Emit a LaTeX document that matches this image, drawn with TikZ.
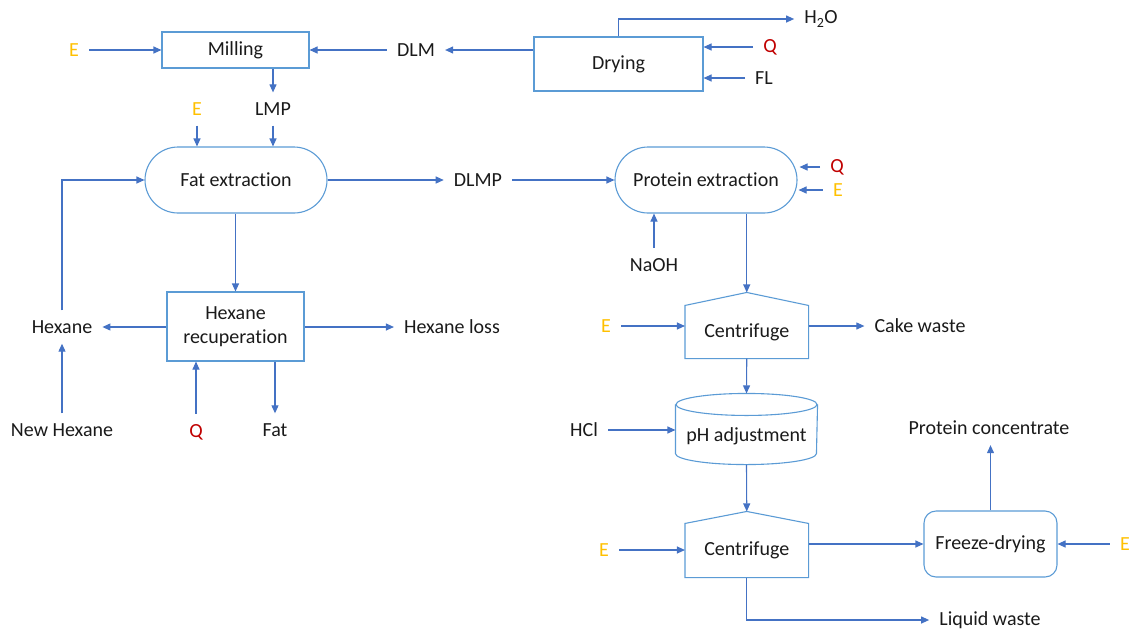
\documentclass[tikz,border=0pt]{standalone}
\usepackage{fontspec}
\setmainfont{Carlito}[Ligatures=NoCommon]
\usetikzlibrary{arrows.meta}

\definecolor{boxblue}{HTML}{5B9BD5}
\definecolor{flowblue}{HTML}{4472C4}
\definecolor{energy}{HTML}{FFC000}
\definecolor{heat}{HTML}{C00000}
\definecolor{ink}{HTML}{1A1A1A}

\tikzset{
  unit/.style={draw=boxblue, line width=1.1pt, text=ink, align=center, inner sep=2pt},
  stadium/.style={unit, rounded corners=33pt, minimum width=182pt, minimum height=66pt},
  stream/.style={text=ink, inner sep=10pt},
  flow/.style={draw=flowblue, line width=1.1pt, -{Triangle[length=8pt,width=7pt]}},
}

\begin{document}
\begin{tikzpicture}[x=1pt, y=-1pt, font=\fontsize{20}{24}\selectfont]
  \useasboundingbox (0,0) rectangle (1130,630);

  %% process units
  \node[unit, minimum width=147pt, minimum height=36pt] (mill) at (235.5,50) {Milling};
  \node[unit, minimum width=169pt, minimum height=54pt] (dry) at (618.5,64) {Drying};
  \node[stadium] (fatx) at (236,180) {Fat extraction};
  \node[stadium] (protx) at (706,180) {Protein extraction};
  \node[unit, minimum width=137pt, minimum height=69pt] (hexr) at (235.5,326.5) {Hexane\\recuperation};
  \node[unit, draw=none, minimum width=122.5pt, minimum height=52pt] (cf1) at (746.75,332) {Centrifuge};
  \node[unit, draw=none, minimum width=141pt, minimum height=48pt] (ph) at (746.5,429) {\raisebox{-12pt}[0pt][0pt]{pH adjustment}};
  \node[unit, draw=none, minimum width=122.5pt, minimum height=53pt] (cf2) at (746.75,550.5) {Centrifuge};
  \node[unit, rounded corners=12pt, minimum width=133pt, minimum height=66pt] (frz) at (990.5,544) {Freeze-drying};

  %% centrifuges are drawn as houses, the pH tank as a cylinder
  \draw[unit] (cf1.north west) -- ([yshift=13pt]cf1.north) -- (cf1.north east)
    -- (cf1.south east) -- (cf1.south west) -- cycle;
  \draw[unit] (cf2.north west) -- ([yshift=12pt]cf2.north) -- (cf2.north east)
    -- (cf2.south east) -- (cf2.south west) -- cycle;
  \draw[unit] (ph.north west) -- (ph.south west)
    arc[start angle=180, end angle=360, x radius=70.5pt, y radius=11pt] -- (ph.north east);
  \draw[unit] (ph.north) ellipse [x radius=70.5pt, y radius=11pt];

  %% streams
  \node[stream, text=energy] (eMill) at (74,50) {E};
  \node[stream] (dlm) at (416,50) {DLM};
  \node[stream] (h2o) at (821,19) {H\textsubscript{2}O};
  \node[stream, text=heat] (qDry) at (770,47) {Q};
  \node[stream] (fl) at (764,78) {FL};
  \node[stream] (lmp) at (273,109) {LMP};
  \node[stream, text=energy] (eFat) at (197,109) {E};
  \node[stream] (dlmp) at (478,180) {DLMP};
  \node[stream, text=heat] (qProt) at (837,167) {Q};
  \node[stream, text=energy] (eProt) at (838,190) {E};
  \node[stream] (naoh) at (654,265) {NaOH};
  \node[stream] (hex) at (62,327) {Hexane};
  \node[stream] (newhex) at (62,430) {New Hexane};
  \node[stream, text=heat] (qHex) at (196,432) {Q};
  \node[stream] (fat) at (275,430) {Fat};
  \node[stream] (hexloss) at (452,327) {Hexane loss};
  \node[stream, text=energy] (eCf1) at (606,326) {E};
  \node[stream] (cake) at (920,326) {Cake waste};
  \node[stream] (hcl) at (584,430) {HCl};
  \node[stream, text=energy] (eCf2) at (604,550) {E};
  \node[stream, text=energy] (eFrz) at (1125,544) {E};
  \node[stream] (pconc) at (989,428) {Protein concentrate};
  \node[stream] (liq) at (990,620) {Liquid waste};

  %% fat line
  \draw[flow] (eMill) -- (mill);
  \draw[flow] (dlm) -- (mill);
  \draw[flow] (dry.west |- dlm) -- (dlm);
  \draw[flow] (dry.north) |- (h2o);
  \draw[flow] (qDry) -- (qDry -| dry.east);
  \draw[flow] (fl) -- (fl -| dry.east);
  \draw[flow] (mill.south -| lmp) -- (lmp);
  \draw[flow] (lmp) -- (lmp |- fatx.north);
  \draw[flow] (eFat) -- (eFat |- fatx.north);
  \draw[flow] (fatx) -- (dlmp);
  \draw[flow] (hexr.north |- fatx.south) -- (hexr.north);
  \draw[flow] (hexr.west |- hex) -- (hex);
  \draw[flow] (hexr.east |- hexloss) -- (hexloss);
  \draw[flow] (hex.north) |- (fatx.west);
  \draw[flow] (newhex) -- (hex);
  \draw[flow] (qHex) -- (qHex |- hexr.south);
  \draw[flow] (hexr.south -| fat) -- (fat);

  %% protein line
  \draw[flow] (dlmp) -- (protx);
  \draw[flow, shorten >=2pt] (qProt) -- (qProt -| protx.east);
  \draw[flow, shorten >=1pt] (eProt) -- (eProt -| protx.east);
  \draw[flow] (naoh) -- (naoh |- protx.south);
  \draw[flow] (protx.south -| cf1) -- ([yshift=13pt]cf1.north);
  \draw[flow] (eCf1) -- (eCf1 -| cf1.west);
  \draw[flow] (cake -| cf1.east) -- (cake);
  \draw[flow] (cf1.south) -- ([yshift=11pt]ph.north);
  \draw[flow] (hcl) -- (hcl -| ph.west);
  \draw[flow] ([yshift=-11pt]ph.south) -- ([yshift=12pt]cf2.north);
  \draw[flow] (eCf2) -- (eCf2 -| cf2.west);
  \draw[flow] (cf2.east |- frz) -- (frz.west);
  \draw[flow] (eFrz) -- (frz.east);
  \draw[flow] (frz.north) -- (frz.north |- pconc.south);
  \draw[flow] (cf2.south) |- (liq);
\end{tikzpicture}
\end{document}
